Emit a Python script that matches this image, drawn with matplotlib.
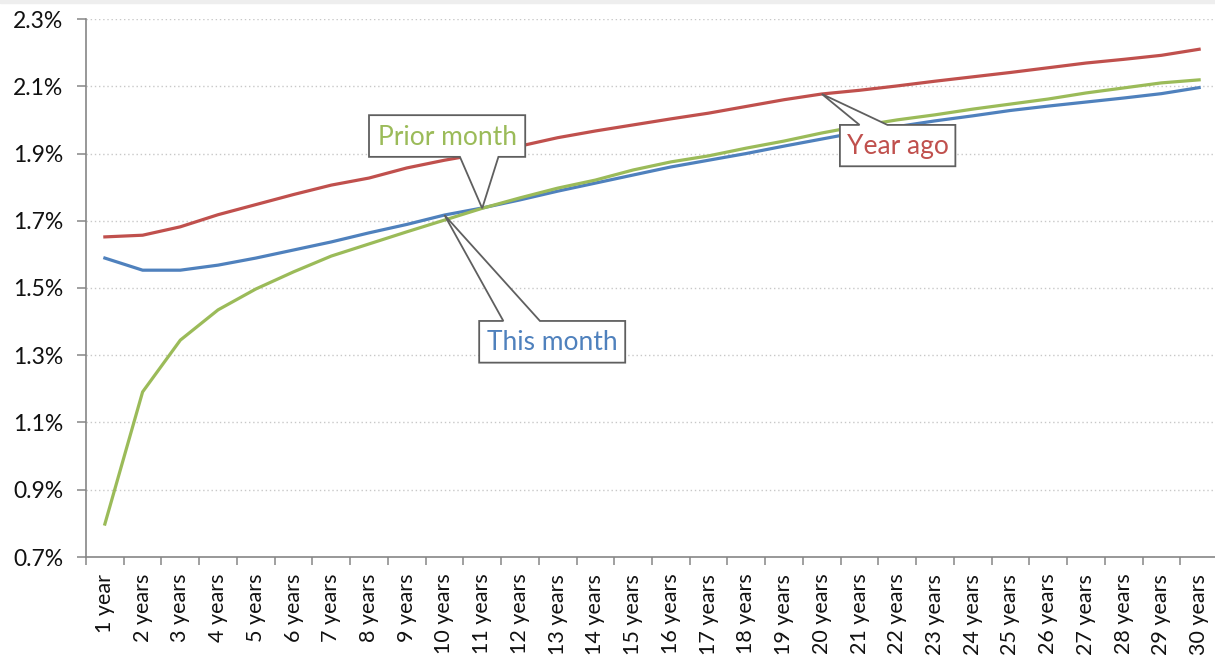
import matplotlib.pyplot as plt
from matplotlib.patches import Polygon, Rectangle
from matplotlib.ticker import FixedLocator

plt.rcParams['font.family'] = ['Lato', 'DejaVu Sans']

tenors = ["1 year"] + [f"{n} years" for n in range(2, 31)]

this_month = [1.589, 1.553, 1.553, 1.568, 1.589, 1.613, 1.637, 1.664, 1.689, 1.717,
              1.738, 1.762, 1.788, 1.812, 1.836, 1.860, 1.880, 1.900, 1.922, 1.943,
              1.964, 1.980, 1.997, 2.012, 2.028, 2.041, 2.053, 2.065, 2.078, 2.096]
prior_month = [0.798, 1.191, 1.345, 1.435, 1.497, 1.548, 1.595, 1.631, 1.667, 1.702,
               1.737, 1.768, 1.797, 1.821, 1.851, 1.875, 1.893, 1.916, 1.937, 1.961,
               1.982, 2.000, 2.015, 2.032, 2.047, 2.062, 2.080, 2.095, 2.110, 2.119]
year_ago = [1.652, 1.657, 1.682, 1.718, 1.748, 1.778, 1.806, 1.827, 1.857, 1.880,
            1.900, 1.922, 1.947, 1.967, 1.985, 2.003, 2.020, 2.040, 2.060, 2.077,
            2.088, 2.101, 2.115, 2.128, 2.141, 2.155, 2.169, 2.180, 2.192, 2.210]

c_blue = "#4F81BD"
c_green = "#9BBB59"
c_red = "#C0504D"
c_edge = "#5f5f5f"

fig = plt.figure(figsize=(12.15, 6.57), dpi=100)
fig.patches.append(Rectangle((0, 0.996), 1, 0.004, transform=fig.transFigure,
                             color="#eeeeee", zorder=0))
ax = fig.add_axes([86 / 1215, 1 - 557 / 657, 1132 / 1215, 538 / 657])

x = list(range(len(tenors)))
ax.plot(x, year_ago, color=c_red, lw=2.3, zorder=3, solid_joinstyle="round")
ax.plot(x, this_month, color=c_blue, lw=2.3, zorder=3, solid_joinstyle="round")
ax.plot(x, prior_month, color=c_green, lw=2.3, zorder=3, solid_joinstyle="round")

ax.set_xlim(-0.5, len(tenors) - 0.5)
ax.set_ylim(0.7, 2.3)
yt = [0.7, 0.9, 1.1, 1.3, 1.5, 1.7, 1.9, 2.1, 2.3]
ax.set_yticks(yt)
ax.set_yticklabels([f"{v:.1f}%" for v in yt])
ax.set_xticks(x)
ax.set_xticklabels(tenors, rotation=90, va="top", ha="center")
ax.xaxis.set_minor_locator(FixedLocator([i - 0.5 for i in range(len(tenors) + 1)]))

ax.tick_params(axis="x", which="major", length=0, pad=12, labelsize=15.5,
               labelcolor="#111111")
ax.tick_params(axis="x", which="minor", length=6, width=1.1, color="#868686")
ax.tick_params(axis="y", length=6.5, width=1.1, color="#868686", pad=10,
               labelsize=16.5, labelcolor="#111111")

for s in ["top", "right"]:
    ax.spines[s].set_visible(False)
for s in ["left", "bottom"]:
    ax.spines[s].set_color("#868686")
    ax.spines[s].set_linewidth(1.2)

for v in yt[1:]:
    ax.axhline(v, color="#c8c8c8", lw=1, ls=(0, (1, 2)), zorder=1)


def callout(x0, x1, y0, y1, b1, b2, tip, text, color, top=False):
    if top:
        pts = [(x0, y0), (x0, y1), (b1, y1), tip, (b2, y1), (x1, y1), (x1, y0)]
    else:
        pts = [(x0, y1), (x1, y1), (x1, y0), (b2, y0), tip, (b1, y0), (x0, y0)]
    ax.add_patch(Polygon(pts, closed=True, facecolor="white", edgecolor=c_edge,
                         lw=1.3, zorder=5, joinstyle="miter"))
    ax.text((x0 + x1) / 2, (y0 + y1) / 2 - 0.003, text, color=color, fontsize=19,
            ha="center", va="center", zorder=6)


callout(7.0, 11.14, 1.890, 2.014, 9.41, 10.43, (10, prior_month[10]),
        "Prior month", c_green)
callout(9.92, 13.79, 1.278, 1.402, 10.56, 11.53, (9, this_month[9]),
        "This month", c_blue, top=True)
callout(19.48, 22.54, 1.862, 1.985, 20.0, 20.74, (19, year_ago[19]),
        "Year ago", c_red, top=True)

fig.savefig("out.png", dpi=100)
